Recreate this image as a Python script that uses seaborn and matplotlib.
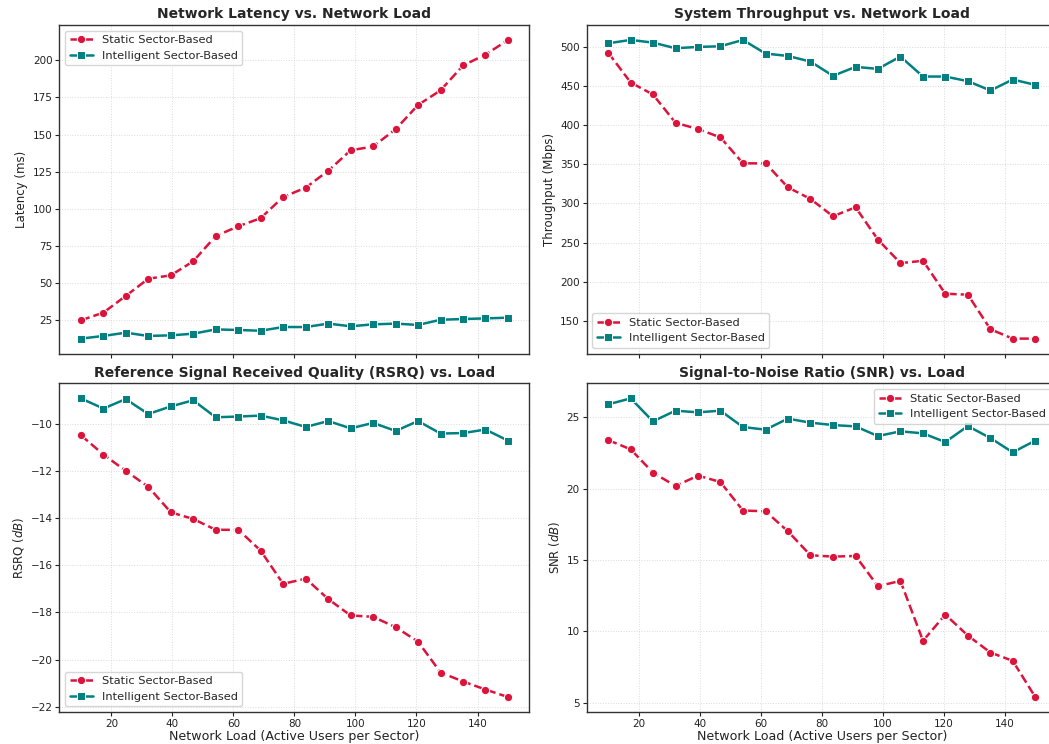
import matplotlib
matplotlib.use("Agg")
import matplotlib.pyplot as plt
import seaborn as sns
import numpy as np

# ---- data ----
load = [10.0, 17.4, 24.7, 32.1, 39.5, 46.8, 54.2, 61.6, 68.9, 76.3,
        83.7, 91.1, 98.4, 105.8, 113.2, 120.5, 127.9, 135.3, 142.6, 150.0]

latency_static = [25.0, 30.2, 41.4, 53.0, 55.3, 64.7, 81.7, 88.3, 93.7, 108.0,
                  114.3, 125.7, 139.4, 142.0, 153.7, 169.9, 179.8, 196.6, 203.8, 213.7]
latency_intel = [12.7, 14.5, 16.7, 14.5, 14.9, 16.0, 18.9, 18.5, 18.0, 20.5,
                 20.5, 22.8, 21.0, 22.3, 22.8, 21.9, 25.4, 25.9, 26.3, 26.8]

thr_static = [492.4, 454.2, 438.9, 402.8, 394.8, 384.2, 351.1, 351.1, 320.5, 305.7,
              283.6, 295.0, 253.9, 223.8, 226.8, 184.8, 183.5, 139.4, 127.5, 127.5]
thr_intel = [504.2, 508.5, 505.1, 497.9, 499.6, 500.4, 508.5, 491.1, 488.1, 480.9,
             462.7, 474.1, 471.6, 487.3, 461.8, 461.8, 455.9, 444.0, 458.0, 451.2]

rsrq_static = [-10.49, -11.31, -12.00, -12.68, -13.76, -14.04, -14.50, -14.50, -15.38, -16.79,
               -16.57, -17.44, -18.13, -18.19, -18.63, -19.24, -20.55, -20.93, -21.27, -21.59]
rsrq_intel = [-8.93, -9.36, -8.96, -9.59, -9.27, -9.01, -9.73, -9.70, -9.66, -9.86,
              -10.14, -9.89, -10.20, -9.97, -10.31, -9.89, -10.42, -10.40, -10.25, -10.72]

snr_static = [23.41, 22.76, 21.13, 20.19, 20.92, 20.47, 18.47, 18.42, 17.02, 15.34,
              15.24, 15.29, 13.17, 13.54, 9.34, 11.18, 9.71, 8.52, 7.94, 5.40]
snr_intel = [25.91, 26.33, 24.72, 25.47, 25.35, 25.47, 24.32, 24.14, 24.91, 24.63,
             24.46, 24.37, 23.69, 24.02, 23.88, 23.27, 24.39, 23.55, 22.55, 23.37]

series_labels = ["Static Sector-Based", "Intelligent Sector-Based"]
titles = ["Network Latency vs. Network Load",
          "System Throughput vs. Network Load",
          "Reference Signal Received Quality (RSRQ) vs. Load",
          "Signal-to-Noise Ratio (SNR) vs. Load"]
ylabels = ["Latency (ms)", "Throughput (Mbps)", "RSRQ ($dB$)", "SNR ($dB$)"]
xlabel = "Network Load (Active Users per Sector)"
legend_locs = ["upper left", "lower left", "lower left", "upper right"]

# ---- style ----
sns.set_style("ticks")
plt.rcParams['font.family'] = ['DejaVu Sans']

STATIC_COLOR = "#DC143C"
INTEL_COLOR = "#008080"

fig, axes = plt.subplots(2, 2, figsize=(10.49, 7.44), dpi=100, sharex=True)
fig.subplots_adjust(left=0.0567, right=1.0073, top=0.9664, bottom=0.043,
                    wspace=0.122, hspace=0.091)

data_pairs = [(latency_static, latency_intel), (thr_static, thr_intel),
              (rsrq_static, rsrq_intel), (snr_static, snr_intel)]

for i, ax in enumerate(axes.flat):
    s, n = data_pairs[i]
    sns.lineplot(x=load, y=s, ax=ax, color=STATIC_COLOR, marker="o", linestyle="--",
                 linewidth=1.8, markersize=6, label=series_labels[0])
    sns.lineplot(x=load, y=n, ax=ax, color=INTEL_COLOR, marker="s", linestyle="-",
                 linewidth=1.8, markersize=6, label=series_labels[1])
    ax.set_title(titles[i], fontsize=10, fontweight="bold", pad=5)
    ax.set_ylabel(ylabels[i], fontsize=8.5, color="#222222", labelpad=3)
    ax.grid(True, linestyle=":", linewidth=0.7, color="#cccccc", alpha=0.7)
    ax.tick_params(labelsize=7.5, colors="#222222", length=3, width=0.8, pad=2)
    for sp in ax.spines.values():
        sp.set_color("#333333")
        sp.set_linewidth(1.0)
    ax.legend(loc=legend_locs[i], fontsize=8.2, frameon=True, framealpha=0.8,
              edgecolor="#cccccc", handlelength=2.0)
    if i >= 2:
        ax.set_xlabel(xlabel, fontsize=9.1, color="#222222", labelpad=1)

fig.savefig("out.png", dpi=100)
